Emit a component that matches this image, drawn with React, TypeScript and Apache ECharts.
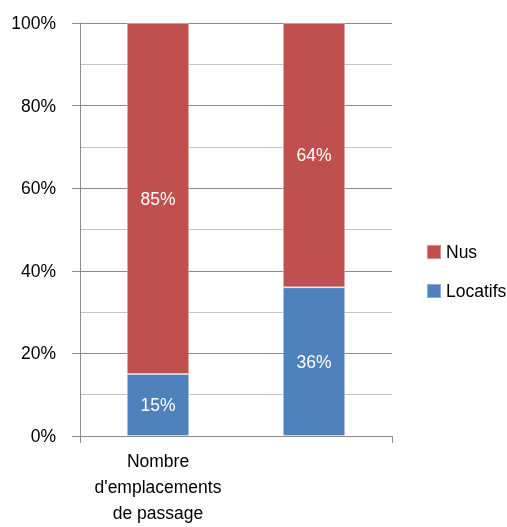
import React, { useEffect, useRef } from "react";
import * as echarts from "echarts";

const categories = ["Nombre\nd'emplacements\nde passage", "Nombre de\nnuitées"];
const locatifs = [15, 36];
const nus = [85, 64];
const seriesNames = ["Locatifs", "Nus"];
const legendOrder = ["Nus", "Locatifs"];

const FONT = "'Liberation Sans', Arial, sans-serif";
const FS = 17.5;

export default function App() {
  const ref = useRef<HTMLDivElement>(null);
  useEffect(() => {
    const chart = echarts.init(ref.current!, null, { renderer: "svg" });
    const labelStyle = {
      show: true,
      position: "inside",
      formatter: "{c}%",
      color: "#fff",
      fontSize: FS,
      fontFamily: FONT,
    };
    chart.setOption({
      animation: false,
      textStyle: { fontFamily: FONT },
      grid: { left: 80, top: 23, width: 312, height: 413, containLabel: false },
      legend: {
        orient: "vertical",
        left: 426,
        top: 243,
        padding: 0,
        itemWidth: 14,
        itemHeight: 14,
        itemGap: 21,
        icon: "rect",
        data: legendOrder,
        textStyle: { fontSize: FS, color: "#000", fontFamily: FONT },
      },
      xAxis: {
        type: "category",
        data: categories,
        axisLine: { lineStyle: { color: "#8c8c8c", width: 1 } },
        axisTick: { show: true, length: 7, lineStyle: { color: "#8c8c8c" } },
        axisLabel: {
          fontSize: FS,
          color: "#000",
          lineHeight: 26,
          margin: 12,
          fontFamily: FONT,
        },
      },
      yAxis: {
        type: "value",
        min: 0,
        max: 100,
        interval: 20,
        axisLine: { show: true, lineStyle: { color: "#8c8c8c", width: 1 } },
        axisTick: { show: true, length: 8, lineStyle: { color: "#8c8c8c" } },
        axisLabel: {
          formatter: "{value}%",
          fontSize: FS,
          color: "#000",
          margin: 24,
          fontFamily: FONT,
        },
        splitLine: { show: true, lineStyle: { color: "#8a8a8a", width: 1 } },
        minorTick: { show: false, splitNumber: 2 },
        minorSplitLine: { show: true, lineStyle: { color: "#c4c4c4", width: 1 } },
      },
      series: [
        {
          name: seriesNames[0],
          type: "bar",
          stack: "total",
          data: locatifs,
          barWidth: "40%",
          itemStyle: { color: "#4F81BD", borderColor: "rgba(255,255,255,0.35)", borderWidth: 1 },
          label: labelStyle,
        },
        {
          name: seriesNames[1],
          type: "bar",
          stack: "total",
          data: nus,
          barWidth: "40%",
          itemStyle: { color: "#C0504D", borderColor: "rgba(255,255,255,0.35)", borderWidth: 1 },
          label: labelStyle,
        },
      ],
    });
    return () => chart.dispose();
  }, []);
  return (
    <div
      ref={ref}
      style={{ position: "fixed", left: 0, top: 0, width: 507, height: 527 }}
    />
  );
}
